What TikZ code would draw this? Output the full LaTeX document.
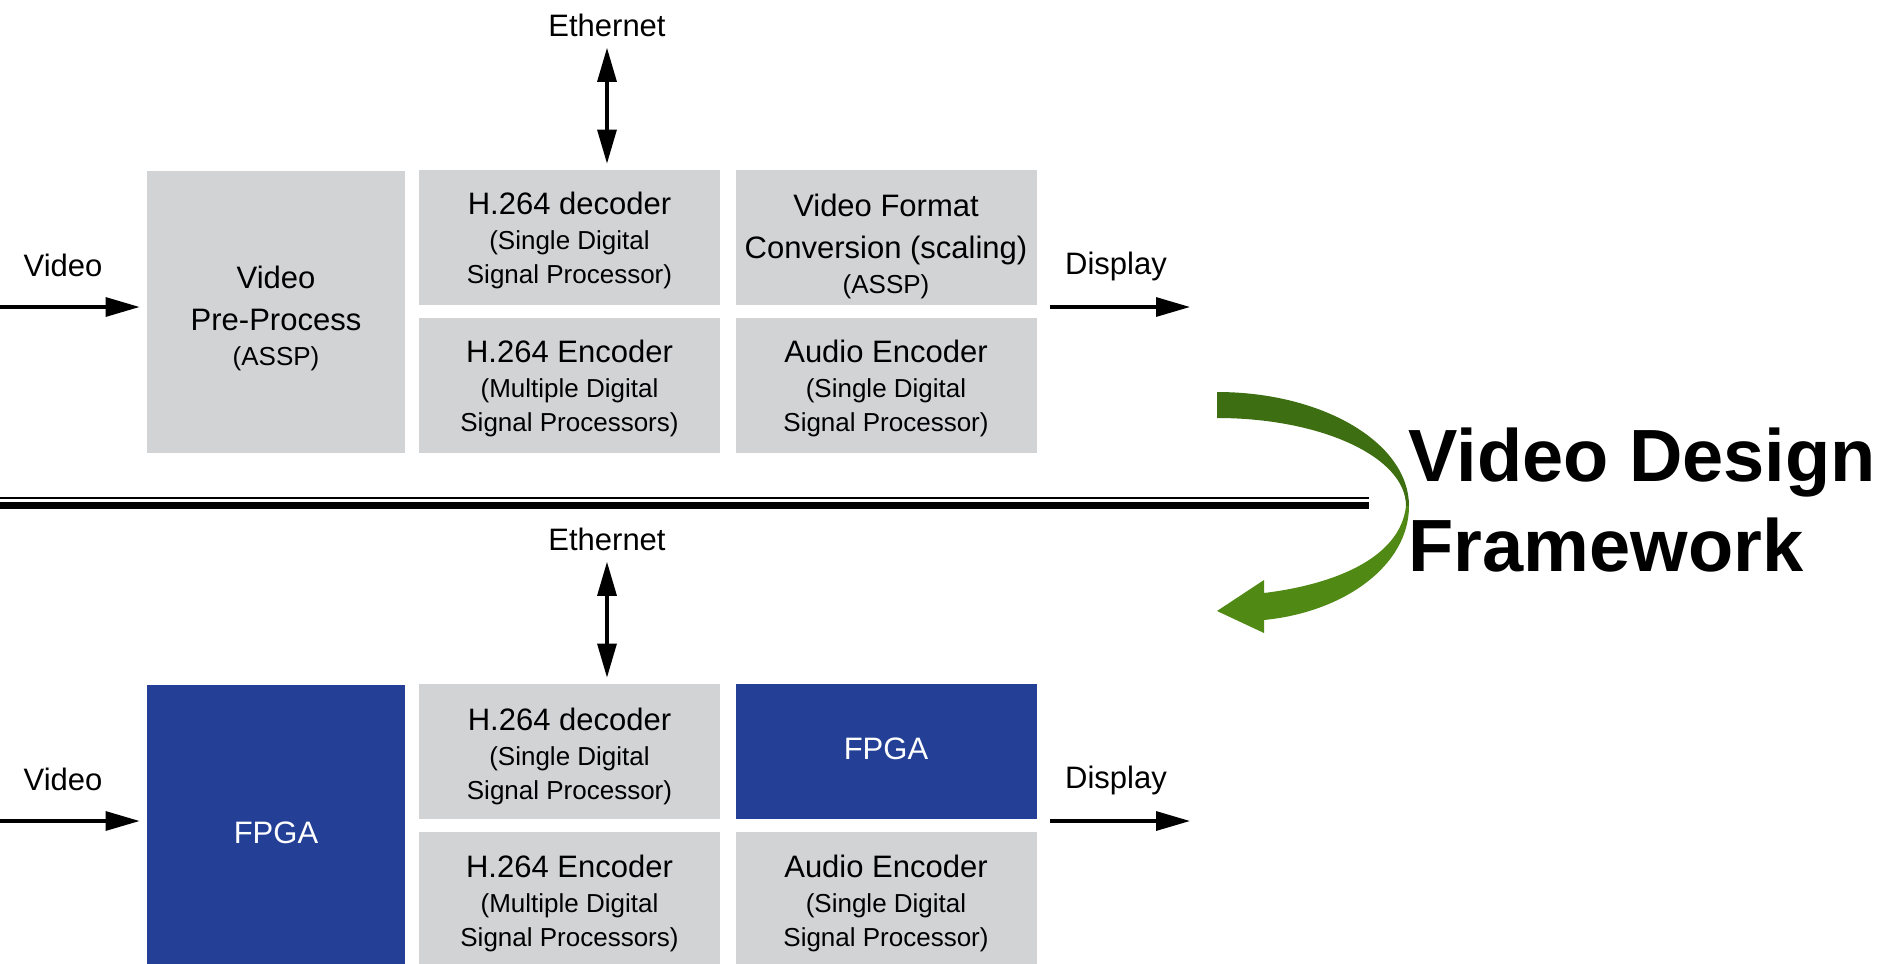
\documentclass[tikz,border=0pt]{standalone}
\usepackage{fontspec}
\setmainfont{Liberation Sans}
\usetikzlibrary{arrows.meta}
\definecolor{boxgrey}{RGB}{209,211,212}
\definecolor{fpgablue}{RGB}{35,63,150}
\definecolor{arcdark}{RGB}{62,110,18}
\definecolor{arclight}{RGB}{80,138,20}
\newcommand{\subline}[1]{{\fontsize{13pt}{17pt}\selectfont #1}}

\begin{document}
\begin{tikzpicture}[x=0.5pt,y=-0.5pt,
    every node/.style={font=\fontsize{15.5pt}{17pt}\selectfont, align=center, inner sep=0pt},
    blk/.style={fill=boxgrey, minimum width=150.5pt, minimum height=67.5pt},
    tallblk/.style={fill=boxgrey, minimum width=129pt, minimum height=141pt},
    fpga/.style={fill=fpgablue},
    sig/.style={line width=1.6pt, -{Triangle[length=17pt,width=9.5pt]}},
    biarr/.style={line width=1.6pt, {Triangle[length=17pt,width=9.5pt]}-{Triangle[length=17pt,width=9.5pt]}}]
  \useasboundingbox (0,0) rectangle (1880,964);

  \node[tallblk, label={[yshift=-3.2pt]center:{Video\\[4pt]Pre-Process\\[0.5pt]\subline{(ASSP)}}}] (pre1) at (276,312) {};
  \node[blk, label={[yshift=-1.6pt]center:{H.264 decoder\\[0.5pt]\subline{(Single Digital}\\\subline{Signal Processor)}}}] (dec1) at (569.5,237.5) {};
  \node[blk, label={[yshift=-1.6pt]center:{H.264 Encoder\\[0.5pt]\subline{(Multiple Digital}\\\subline{Signal Processors)}}}] (enc1) at (569.5,385) {};
  \node[blk, label={[yshift=-4.5pt]center:{Video Format\\[4pt]Conversion (scaling)\\[0.5pt]\subline{(ASSP)}}}] (fmt1) at (886,237.5) {};
  \node[blk, label={[yshift=-1.6pt]center:{Audio Encoder\\[0.5pt]\subline{(Single Digital}\\\subline{Signal Processor)}}}] (aud1) at (886,385) {};
  \node (eth1) at (607,25) {Ethernet};
  \node (vid1) at (63,265) {Video};
  \node (disp1) at (1116,266) {Display};
  \coordinate (vin1) at (0,307);
  \coordinate (dout1) at (1190,307);
  \draw[biarr, shorten <=5.5pt, shorten >=3pt] (eth1.south) -- (eth1.south |- dec1.north);
  \draw[sig, shorten >=3.5pt] (vin1) -- (vin1 -| pre1.west);
  \draw[sig, shorten <=6.5pt] (dout1 -| fmt1.east) -- (dout1);

  \draw[line width=1pt] (0,498) -- (1369,498);
  \draw[line width=3.65pt] (0,505.7) -- (1369,505.7);

  \begin{scope}[shift={(0,514)}]
    \node[tallblk, fpga, label={[yshift=-3.4pt, text=white]center:FPGA}] (pre2) at (276,312) {};
    \node[blk, label={[yshift=-2.4pt]center:{H.264 decoder\\[0.5pt]\subline{(Single Digital}\\\subline{Signal Processor)}}}] (dec2) at (569.5,237.5) {};
    \node[blk, label={[yshift=-2.4pt]center:{H.264 Encoder\\[0.5pt]\subline{(Multiple Digital}\\\subline{Signal Processors)}}}] (enc2) at (569.5,385) {};
    \node[blk, fpga, label={[yshift=1.2pt, text=white]center:FPGA}] (fmt2) at (886,237.5) {};
    \node[blk, label={[yshift=-2.4pt]center:{Audio Encoder\\[0.5pt]\subline{(Single Digital}\\\subline{Signal Processor)}}}] (aud2) at (886,385) {};
    \node (eth2) at (607,25) {Ethernet};
    \node (vid2) at (63,265) {Video};
    \node (disp2) at (1116,266) {Display};
    \coordinate (vin2) at (0,307);
    \coordinate (dout2) at (1190,307);
    \draw[biarr, shorten <=5.5pt, shorten >=3pt] (eth2.south) -- (eth2.south |- dec2.north);
    \draw[sig, shorten >=3.5pt] (vin2) -- (vin2 -| pre2.west);
    \draw[sig, shorten <=6.5pt] (dout2 -| fmt2.east) -- (dout2);
  \end{scope}

  \fill[arcdark] (1217,392) .. controls (1323,392) and (1409,443) .. (1409,506)
    -- (1406,506) .. controls (1406,457) and (1321,418) .. (1217,418) -- cycle;
  \fill[arclight] (1409,506) .. controls (1409,565) and (1345,612) .. (1264,620)
    -- (1264,633) -- (1217,611) -- (1264,580) -- (1264,593)
    .. controls (1330,585) and (1400,560) .. (1406,506) -- cycle;
  \node[font=\bfseries\fontsize{37pt}{45pt}\selectfont, align=left, anchor=west] (vdf) at (1408,500) {Video Design\\Framework};
\end{tikzpicture}
\end{document}
